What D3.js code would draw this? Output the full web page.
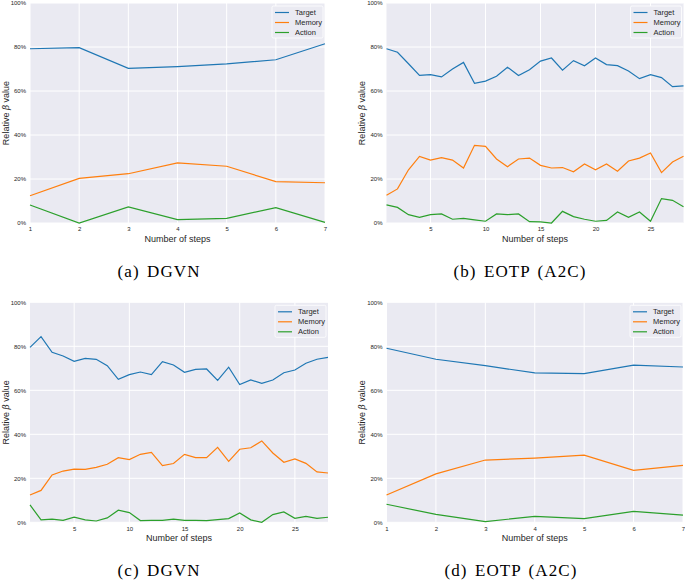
<!DOCTYPE html>
<html>
<head>
<meta charset="utf-8">
<script src="https://cdn.jsdelivr.net/npm/d3@7"></script>
<style>
  body { margin: 0; background: #fff; }
  .tick text { font-family: "Liberation Sans", Arial, sans-serif; }
</style>
</head>
<body>
<div id="chart"></div>
<script>
// Series labels
var seriesNames = ['Target', 'Memory', 'Action'];
var seriesColors = ['#1f77b4', '#ff7f0e', '#2ca02c'];

// (a) DGVN - 7 steps
var dgvnShortTarget = [79.2, 79.7, 70.3, 71.1, 72.3, 74.2, 81.5];
var dgvnShortMemory = [12.4, 20.3, 22.4, 27.3, 25.8, 18.8, 18.3];
var dgvnShortAction = [8.2, 0.0, 7.3, 1.5, 2.1, 7.0, 0.3];

// (b) EOTP (A2C) - 28 steps
var eotpLongTarget = [79.2, 77.6, 72.4, 67.1, 67.4, 66.4, 70.0, 73.0, 63.5, 64.5, 66.7, 70.8, 67.0, 69.7,
                      73.6, 75.0, 69.5, 73.8, 71.5, 75.0, 72.0, 71.5, 69.1, 65.6, 67.4, 66.1, 62.0, 62.3];
var eotpLongMemory = [12.6, 15.5, 24.2, 30.3, 28.6, 29.7, 28.6, 25.0, 35.3, 34.8, 29.1, 25.6, 29.1, 29.5,
                      26.2, 25.0, 25.2, 23.3, 26.8, 24.2, 26.8, 23.5, 28.2, 29.5, 31.8, 22.9, 27.7, 30.3];
var eotpLongAction = [8.2, 7.1, 3.8, 2.6, 3.8, 4.1, 1.7, 2.1, 1.4, 0.8, 4.1, 3.8, 4.1, 0.6,
                      0.5, 0.0, 5.3, 2.9, 1.7, 0.8, 1.2, 5.0, 2.6, 5.0, 0.8, 11.1, 10.3, 7.4];

// (c) DGVN - 28 steps
var dgvnLongTarget = [79.5, 84.4, 77.3, 75.6, 73.2, 74.5, 74.1, 71.2, 65.0, 67.1, 68.3, 67.1, 73.0, 71.5,
                      68.2, 69.5, 69.7, 64.5, 70.5, 62.6, 64.7, 63.2, 64.7, 68.0, 69.2, 72.3, 74.1, 75.0];
var dgvnLongMemory = [12.4, 14.5, 21.5, 23.3, 24.2, 24.1, 25.0, 26.4, 29.4, 28.5, 30.9, 31.8, 25.8, 26.7,
                      30.9, 29.4, 29.4, 34.1, 27.7, 33.2, 33.9, 37.0, 31.5, 27.3, 28.8, 26.8, 22.9, 22.4];
var dgvnLongAction = [7.9, 1.1, 1.4, 0.9, 2.3, 1.1, 0.6, 2.0, 5.5, 4.4, 0.8, 0.9, 0.9, 1.4,
                      0.9, 0.9, 0.8, 1.2, 1.7, 4.2, 1.1, 0.0, 3.5, 4.7, 1.8, 2.7, 1.8, 2.3];

// (d) EOTP (A2C) - 7 steps
var eotpShortTarget = [79.1, 74.1, 71.2, 67.9, 67.6, 71.4, 70.6];
var eotpShortMemory = [12.4, 22.0, 28.3, 29.2, 30.5, 23.6, 25.9];
var eotpShortAction = [8.2, 3.6, 0.3, 2.7, 1.7, 5.0, 3.3];

// tick labels
var shortTicks = [1, 2, 3, 4, 5, 6, 7];
var longTicks = [5, 10, 15, 20, 25];
var yTicks = [0, 20, 40, 60, 80, 100];

var captions = ['(a) DGVN', '(b) EOTP (A2C)', '(c) DGVN', '(d) EOTP (A2C)'];

var svg = d3.select('#chart')
    .append('svg')
    .attr('width', 685)
    .attr('height', 580);

var panels = [
    {left: 30, top: 3, width: 295, steps: 7, ticks: shortTicks, series: [dgvnShortTarget, dgvnShortMemory, dgvnShortAction],
     labelX: 6, capX: 159, capY: 277},
    {left: 386.5, top: 3, width: 297, steps: 28, ticks: longTicks, series: [eotpLongTarget, eotpLongMemory, eotpLongAction],
     labelX: 362, capX: 520, capY: 277},
    {left: 30, top: 302.3, width: 298, steps: 28, ticks: longTicks, series: [dgvnLongTarget, dgvnLongMemory, dgvnLongAction],
     labelX: 6, capX: 159, capY: 576},
    {left: 386.5, top: 302.3, width: 296.5, steps: 7, ticks: shortTicks, series: [eotpShortTarget, eotpShortMemory, eotpShortAction],
     labelX: 362, capX: 511, capY: 576}
];

var plotHeight = 220;

panels.forEach(function(p, i) {
    var g = svg.append('g')
        .attr('transform', `translate(${p.left},${p.top})`);

    var x = d3.scaleLinear().domain([1, p.steps]).range([0, p.width]);
    var y = d3.scaleLinear().domain([0, 100]).range([plotHeight, 0]);

    // background
    g.append('rect')
        .attr('width', p.width)
        .attr('height', plotHeight)
        .attr('fill', '#eaeaf2');

    // grid
    g.selectAll('.vgrid')
        .data(p.ticks)
        .enter()
        .append('line')
        .attr('x1', d => x(d)).attr('x2', d => x(d))
        .attr('y1', 0).attr('y2', plotHeight)
        .attr('stroke', '#fff')
        .attr('stroke-width', 1);

    g.selectAll('.hgrid')
        .data(yTicks)
        .enter()
        .append('line')
        .attr('x1', 0).attr('x2', p.width)
        .attr('y1', d => y(d)).attr('y2', d => y(d))
        .attr('stroke', '#fff')
        .attr('stroke-width', 1);

    // axes
    var xAxis = d3.axisBottom(x).tickValues(p.ticks).tickSize(0).tickPadding(4).tickFormat(d3.format('d'));
    var yAxis = d3.axisLeft(y).tickValues(yTicks).tickSize(0).tickPadding(4).tickFormat(d => d + '%');

    g.append('g')
        .attr('transform', `translate(0,${plotHeight})`)
        .call(xAxis)
        .call(a => a.select('.domain').remove())
        .selectAll('text')
        .attr('font-size', 6)
        .attr('fill', '#262626');

    g.append('g')
        .call(yAxis)
        .call(a => a.select('.domain').remove())
        .selectAll('text')
        .attr('font-size', 6)
        .attr('fill', '#262626');

    // lines
    var line = d3.line()
        .x((d, j) => x(j + 1))
        .y(d => y(d));

    p.series.forEach(function(s, k) {
        g.append('path')
            .datum(s)
            .attr('fill', 'none')
            .attr('stroke', seriesColors[k])
            .attr('stroke-width', 1.2)
            .attr('d', line);
    });

    // legend
    var lg = g.append('g')
        .attr('transform', `translate(${p.width - 53},3)`);
    lg.append('rect')
        .attr('width', 51)
        .attr('height', 32)
        .attr('rx', 1.5)
        .attr('fill', '#eaeaf2')
        .attr('stroke', '#ffffff')
        .attr('stroke-width', 0.8);
    seriesNames.forEach(function(name, k) {
        lg.append('line')
            .attr('x1', 3).attr('x2', 17)
            .attr('y1', 6.5 + k * 10).attr('y2', 6.5 + k * 10)
            .attr('stroke', seriesColors[k])
            .attr('stroke-width', 1.2);
        lg.append('text')
            .attr('x', 23)
            .attr('y', 6.5 + k * 10)
            .attr('dominant-baseline', 'central')
            .attr('font-family', '"Liberation Sans", Arial, sans-serif')
            .attr('font-size', 7.5)
            .attr('fill', '#262626')
            .text(name);
    });

    // axis labels
    g.append('text')
        .attr('x', p.width / 2)
        .attr('y', plotHeight + 19)
        .attr('text-anchor', 'middle')
        .attr('font-family', '"Liberation Sans", Arial, sans-serif')
        .attr('font-size', 9)
        .attr('fill', '#262626')
        .text('Number of steps');

    var yl = svg.append('text')
        .attr('transform', `translate(${p.labelX},${p.top + plotHeight / 2}) rotate(-90)`)
        .attr('text-anchor', 'middle')
        .attr('dominant-baseline', 'central')
        .attr('font-family', '"Liberation Sans", Arial, sans-serif')
        .attr('font-size', 9)
        .attr('fill', '#262626');
    yl.append('tspan').text('Relative ');
    yl.append('tspan').attr('font-style', 'italic').attr('font-family', '"DejaVu Serif", serif').text('β');
    yl.append('tspan').text(' value');

    // caption
    svg.append('text')
        .attr('x', p.capX)
        .attr('y', p.capY)
        .attr('text-anchor', 'middle')
        .attr('font-family', '"Liberation Serif", "DejaVu Serif", serif')
        .attr('font-size', 17)
        .attr('letter-spacing', 1.1)
        .attr('word-spacing', 2)
        .attr('fill', '#000')
        .text(captions[i]);
});
</script>
</body>
</html>
